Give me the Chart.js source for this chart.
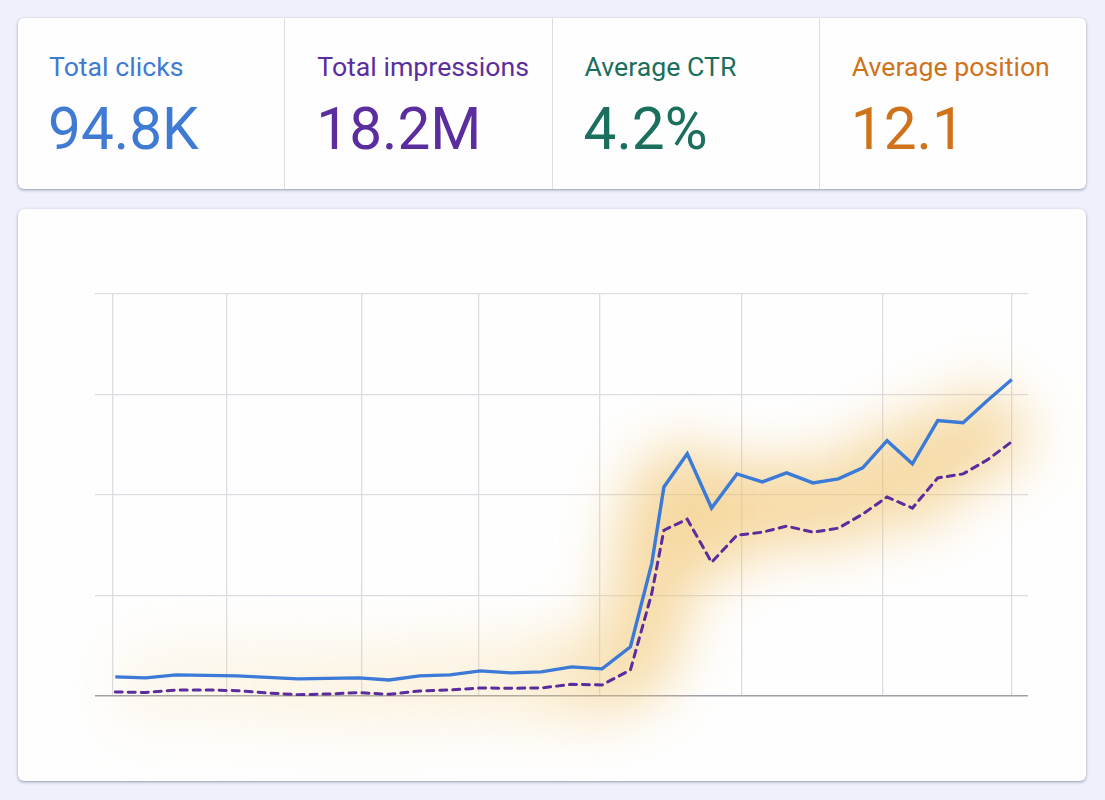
<!DOCTYPE html>
<html>
<head>
<meta charset="utf-8">
<script src="https://cdn.jsdelivr.net/npm/chart.js@4.4.0/dist/chart.umd.min.js"></script>
<style>
  html, body { margin: 0; padding: 0; }
  body {
    width: 1105px; height: 800px; background: #eef1fb;
    font-family: Roboto, "Noto Sans", Arial, sans-serif; position: relative; overflow: hidden;
  }
  .card {
    position: absolute; background: #fefefe; border-radius: 6px;
    box-shadow: 0 1px 3px rgba(60, 64, 90, 0.5);
  }
  #stats { left: 18px; top: 18px; width: 1068px; height: 171px; display: flex; overflow: hidden; }
  .stat { flex: 1; position: relative; border-left: 1px solid #dcdde1; }
  .stat:first-child { border-left: none; }
  .stat .label { position: absolute; left: 32px; top: 34px; font-size: 26.7px; line-height: 30px; white-space: nowrap; }
  .stat .value { position: absolute; left: 31px; top: 81px; font-size: 58.5px; line-height: 60px; white-space: nowrap; }
  #chartCard { left: 18px; top: 209px; width: 1068px; height: 572px; }
  #chartCard canvas { position: absolute; left: 0; top: 0; }
</style>
</head>
<body>
<div id="stats" class="card">
  <div class="stat" style="color:#3f7bd2"><div class="label" style="left:31px">Total clicks</div><div class="value" style="left:30px">94.8K</div></div>
  <div class="stat" style="color:#5b2d9e"><div class="label">Total impressions</div><div class="value">18.2M</div></div>
  <div class="stat" style="color:#1b6f5d"><div class="label">Average CTR</div><div class="value">4.2%</div></div>
  <div class="stat" style="color:#cf731b"><div class="label">Average position</div><div class="value">12.1</div></div>
</div>
<div id="chartCard" class="card"><canvas id="perfChart" width="1068" height="572"></canvas></div>
<script>
// day index of each point
var days = [0, 3, 6, 9, 12, 15, 18, 21, 24, 27, 30, 33, 36, 39, 42, 45, 48,
  50.8, 52.9, 54.1, 56.4, 58.8, 61.3, 63.8, 66.2, 68.8, 71.3, 73.7, 76.1, 78.6, 81.1, 83.6, 86.0, 88.4]
var clicks = [19, 18, 21, 20.5, 20, 18.5, 17, 17.5, 18, 16, 20, 21, 25, 23, 24, 29, 27,
  49, 132, 208, 241, 187, 221, 213, 222, 212, 216, 227, 254, 231, 274, 272, 294, 315]
var impressions = [4, 3.5, 6, 6, 5.3, 3, 1.3, 2, 3.3, 1.7, 5, 6, 8, 7.7, 8, 11.6, 11,
  26, 102, 165, 176, 133, 160, 163, 169, 163, 167, 181, 198, 187, 217, 221, 235, 253]
// vertical grid lines (days) and horizontal grid values
var gridDays = [-0.3, 11, 24.3, 35.8, 47.8, 61.8, 75.7, 88.4]
var yTicks = [0, 100, 200, 300, 400]

const toPoints = arr => arr.map((v, i) => ({ x: days[i], y: v }))
const glowData = clicks.map((v, i) => ({ x: days[i], y: (v + impressions[i]) / 2 }))

// blur the soft highlight band behind the lines
const glowPlugin = {
  id: 'glow',
  beforeDatasetDraw(chart, args) {
    if (args.index === 2) { chart.ctx.save(); chart.ctx.filter = 'blur(28px)'; }
  },
  afterDatasetDraw(chart, args) {
    if (args.index === 2) chart.ctx.restore();
  }
}

const ctx = document.getElementById('perfChart').getContext('2d');
const perfChart = new Chart(ctx, {
  type: 'line',
  data: {
    datasets: [{
      label: 'Clicks',
      data: toPoints(clicks),
      borderColor: '#3b7ad6',
      borderWidth: 3.4,
      pointRadius: 0,
      tension: 0,
      borderJoinStyle: 'miter'
    }, {
      label: 'Impressions',
      data: toPoints(impressions),
      borderColor: '#5a2c9c',
      borderWidth: 3,
      borderDash: [7, 6],
      borderCapStyle: 'round',
      pointRadius: 0,
      tension: 0
    }, {
      label: 'glow',
      data: glowData,
      borderWidth: 80,
      borderCapStyle: 'butt',
      pointRadius: 0,
      tension: 0.3,
      clip: false,
      borderColor: function (c) {
        const area = c.chart.chartArea
        if (!area) return 'rgba(242,196,100,0.4)'
        const g = c.chart.ctx.createLinearGradient(area.left, 0, area.right, 0)
        g.addColorStop(0, 'rgba(246,205,120,0.12)')
        g.addColorStop(0.25, 'rgba(246,205,120,0.2)')
        g.addColorStop(0.45, 'rgba(246,205,120,0.26)')
        g.addColorStop(0.6, 'rgba(240,190,95,0.6)')
        g.addColorStop(1, 'rgba(240,190,95,0.55)')
        return g
      }
    }]
  },
  plugins: [glowPlugin],
  options: {
    responsive: false,
    animation: false,
    events: [],
    layout: { padding: { left: 77, right: 58, top: 85, bottom: 85 } },
    plugins: { legend: { display: false }, tooltip: { enabled: false } },
    scales: {
      x: {
        type: 'linear',
        min: -2,
        max: 90,
        afterBuildTicks: axis => { axis.ticks = gridDays.map(v => ({ value: v })) },
        ticks: { display: false },
        grid: { color: '#dcdde2', lineWidth: 1.3, drawTicks: false },
        border: { display: false }
      },
      y: {
        min: 0,
        max: 400,
        afterBuildTicks: axis => { axis.ticks = yTicks.map(v => ({ value: v })) },
        ticks: { display: false },
        grid: {
          color: c => c.tick.value === 0 ? '#9fa1a8' : '#dcdde2',
          lineWidth: c => c.tick.value === 0 ? 1.6 : 1.3,
          drawTicks: false
        },
        border: { display: false }
      }
    }
  }
});
</script>
</body>
</html>
